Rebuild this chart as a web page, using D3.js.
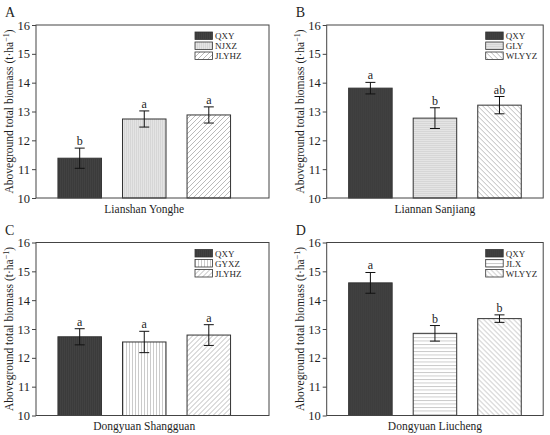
<!DOCTYPE html>
<html>
<head>
<meta charset="utf-8">
<script src="https://cdn.jsdelivr.net/npm/d3@7"></script>
<style>
  body { margin: 0; background: #fff; }
  text { font-family: "Liberation Serif", "Times New Roman", serif; fill: #1e1e1e; }
</style>
</head>
<body>
<svg width="550" height="435"></svg>
<script>
const panelLetters = ["A", "B", "C", "D"];
const sites = ["Lianshan Yonghe", "Liannan Sanjiang", "Dongyuan Shangguan", "Dongyuan Liucheng"];
const varieties = [
    ["QXY", "NJXZ", "JLYHZ"],
    ["QXY", "GLY", "WLYYZ"],
    ["QXY", "GYXZ", "JLYHZ"],
    ["QXY", "JLX", "WLYYZ"]
];
const means = [
    [11.38, 12.74, 12.88],
    [13.81, 12.77, 13.22],
    [12.73, 12.55, 12.79],
    [14.60, 12.85, 13.36]
];
const errors = [
    [0.35, 0.28, 0.28],
    [0.20, 0.36, 0.30],
    [0.28, 0.37, 0.36],
    [0.36, 0.27, 0.13]
];
const sigLetters = [
    ["b", "a", "a"],
    ["a", "b", "ab"],
    ["a", "a", "a"],
    ["a", "b", "b"]
];
const yTicks = [10, 11, 12, 13, 14, 15, 16];

// pattern per variety
const patternOf = {
    QXY: "p-dark", NJXZ: "p-vlight", GLY: "p-hlight",
    GYXZ: "p-vwhite", JLX: "p-hwhite", JLYHZ: "p-fwd", WLYYZ: "p-back"
};

const svg = d3.select("svg");
const defs = svg.append("defs");

function addPattern(id, size, bg, lines, stroke, sw) {
    const p = defs.append("pattern")
        .attr("id", id)
        .attr("patternUnits", "userSpaceOnUse")
        .attr("width", size).attr("height", size);
    p.append("rect").attr("width", size).attr("height", size).attr("fill", bg);
    lines.forEach(l => p.append("line")
        .attr("x1", l[0]).attr("y1", l[1]).attr("x2", l[2]).attr("y2", l[3])
        .attr("stroke", stroke).attr("stroke-width", sw));
}
addPattern("p-dark", 2, "#3b3b3b", [[0.5, 0, 0.5, 2]], "#474747", 0.6);
addPattern("p-vlight", 2, "#e4e4e4", [[0.5, 0, 0.5, 2]], "#cdcdcd", 0.6);
addPattern("p-hlight", 2, "#e4e4e4", [[0, 0.5, 2, 0.5]], "#cdcdcd", 0.6);
addPattern("p-vwhite", 3, "#ffffff", [[0.5, 0, 0.5, 3]], "#b5b5b5", 0.7);
addPattern("p-hwhite", 3.5, "#ffffff", [[0, 0.5, 3.5, 0.5]], "#b5b5b5", 0.7);
addPattern("p-fwd", 5, "#ffffff", [[0, 5, 5, 0], [-1, 1, 1, -1], [4, 6, 6, 4]], "#a8a8a8", 0.8);
addPattern("p-back", 5, "#ffffff", [[0, 0, 5, 5], [-1, 4, 1, 6], [4, -1, 6, 1]], "#a8a8a8", 0.8);

// frame positions of each panel
const frames = [
    { x: 36, y: 25, w: 233 },
    { x: 326.7, y: 25, w: 216.5 },
    { x: 36, y: 242.5, w: 233 },
    { x: 326.7, y: 242.5, w: 216.5 }
];
const height = 173;

const y = d3.scaleLinear().domain([10, 16]).range([height, 0]);

frames.forEach((f, i) => {
    const g = svg.append("g").attr("transform", `translate(${f.x},${f.y})`);

    const x = d3.scaleBand()
        .domain(varieties[i])
        .range([0, 216.5])
        .paddingInner(0.326)
        .paddingOuter(0.34);

    const rows = varieties[i].map((v, j) => ({
        v, mean: means[i][j], err: errors[i][j], sig: sigLetters[i][j]
    }));

    // bars
    g.selectAll("rect.bar")
        .data(rows)
        .enter()
        .append("rect")
        .attr("class", "bar")
        .attr("x", d => x(d.v))
        .attr("y", d => y(d.mean))
        .attr("width", x.bandwidth())
        .attr("height", d => y(10) - y(d.mean))
        .attr("fill", d => `url(#${patternOf[d.v]})`)
        .attr("stroke", "#333")
        .attr("stroke-width", 1);

    // error bars
    const eb = g.selectAll("g.err")
        .data(rows)
        .enter()
        .append("g")
        .attr("class", "err")
        .attr("stroke", "#111")
        .attr("stroke-width", 1);
    eb.append("line")
        .attr("x1", d => x(d.v) + x.bandwidth() / 2)
        .attr("x2", d => x(d.v) + x.bandwidth() / 2)
        .attr("y1", d => y(d.mean - d.err))
        .attr("y2", d => y(d.mean + d.err));
    [-1, 1].forEach(s => eb.append("line")
        .attr("x1", d => x(d.v) + x.bandwidth() / 2 - 5)
        .attr("x2", d => x(d.v) + x.bandwidth() / 2 + 5)
        .attr("y1", d => y(d.mean + s * d.err))
        .attr("y2", d => y(d.mean + s * d.err)));

    // significance letters
    g.selectAll("text.sig")
        .data(rows)
        .enter()
        .append("text")
        .attr("class", "sig")
        .attr("x", d => x(d.v) + x.bandwidth() / 2)
        .attr("y", d => y(d.mean + d.err) - 3)
        .attr("text-anchor", "middle")
        .attr("font-size", 12)
        .style("fill", "#1e1e1e")
        .text(d => d.sig);

    // frame
    g.append("rect")
        .attr("width", f.w).attr("height", height)
        .attr("fill", "none").attr("stroke", "#444").attr("stroke-width", 1);

    // y axis
    const ax = g.append("g")
        .call(d3.axisLeft(y).tickValues(yTicks).tickSize(4).tickPadding(2).tickFormat(d3.format("d")));
    ax.select(".domain").remove();
    ax.selectAll("line").attr("stroke", "#444");
    ax.selectAll("text")
        .attr("font-size", 12.5)
        .style("font-family", "Liberation Serif")
        .style("fill", "#1e1e1e");

    // y title
    const yt = g.append("text")
        .attr("transform", `translate(-23,${height / 2}) rotate(-90)`)
        .attr("text-anchor", "middle")
        .attr("font-size", 11.5);
    yt.append("tspan").text("Aboveground total biomass (t·ha");
    yt.append("tspan").attr("dy", -4).attr("font-size", 8).text("−1");
    yt.append("tspan").attr("dy", 4).text(")");

    // x label
    g.append("text")
        .attr("x", (x(varieties[i][0]) + x(varieties[i][2]) + x.bandwidth()) / 2)
        .attr("y", height + 14.5)
        .attr("text-anchor", "middle")
        .attr("font-size", 11.5)
        .text(sites[i]);

    // panel letter
    g.append("text")
        .attr("x", -31)
        .attr("y", -8)
        .attr("font-size", 14)
        .text(panelLetters[i]);

    // legend
    const lg = g.selectAll("g.leg")
        .data(varieties[i])
        .enter()
        .append("g")
        .attr("class", "leg")
        .attr("transform", (d, j) => `translate(159,${7 + j * 10})`);
    lg.append("rect")
        .attr("width", 17.5).attr("height", 7.5)
        .attr("fill", d => `url(#${patternOf[d]})`)
        .attr("stroke", "#333").attr("stroke-width", 0.8);
    lg.append("text")
        .attr("x", 20).attr("y", 7)
        .attr("font-size", 9)
        .text(d => d);
});
</script>
</body>
</html>
